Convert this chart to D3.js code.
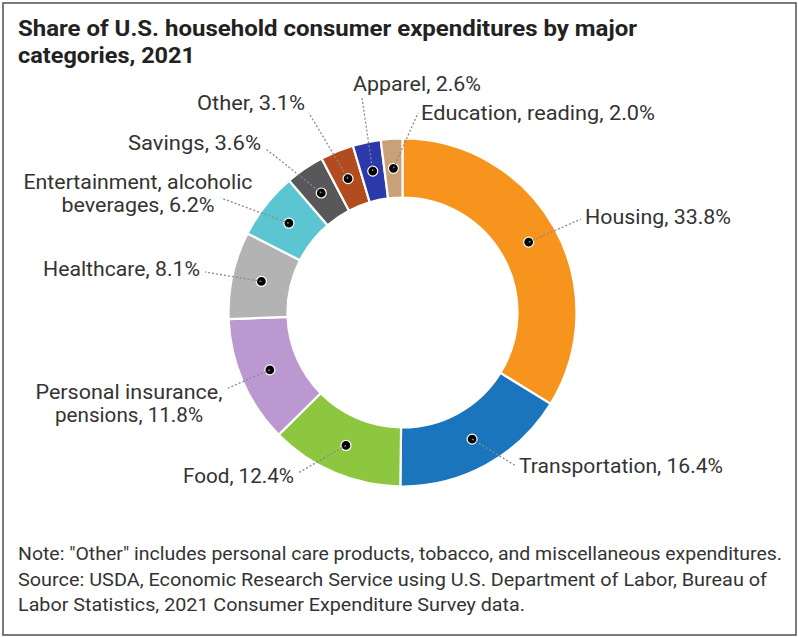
<!DOCTYPE html>
<html>
<head>
<meta charset="utf-8">
<script src="https://cdn.jsdelivr.net/npm/d3@7"></script>
<style>
  html, body { margin: 0; padding: 0; background: #fff; }
  svg { display: block; }
  text { font-family: Roboto, "Liberation Sans", Arial, sans-serif; }
</style>
</head>
<body>
<svg id="chart" width="798" height="638"></svg>
<script>
// ---- Data ----
const categories = [
  "Housing", "Transportation", "Food", "Personal insurance, pensions",
  "Healthcare", "Entertainment, alcoholic beverages", "Savings",
  "Other", "Apparel", "Education, reading"
];
const values = [33.8, 16.4, 12.4, 11.8, 8.1, 6.2, 3.6, 3.1, 2.6, 2.0];
const colors = [
  "#f7941d", "#1b75bc", "#8dc63f", "#bb98d0", "#b3b3b3",
  "#5bc6d1", "#58585a", "#b24c1f", "#2b3aa8", "#c9a077"
];
const titleLines = [
  "Share of U.S. household consumer expenditures by major",
  "categories, 2021"
];
const footerLines = [
  "Note: \"Other\" includes personal care products, tobacco, and miscellaneous expenditures.",
  "Source: USDA, Economic Research Service using U.S. Department of Labor, Bureau of",
  "Labor Statistics, 2021 Consumer Expenditure Survey data."
];

// ---- Layout (annotation placement) ----
const center = { x: 402.5, y: 312.5 };
const rOuter = 174, rInner = 115;
const labelLayout = [
  { anchor: "start",  x: 585, y: 224, brk: 0, w: [146], lx: 581, ly: 219 },
  { anchor: "start",  x: 519, y: 473, brk: 0, w: [204], lx: 516, ly: 466 },
  { anchor: "end",    x: 294, y: 483, brk: 0, w: [111], lx: 298, ly: 473 },
  { anchor: "middle", x: 129, y: 399, brk: 2, w: [187, 148], lx: 226, ly: 389 },
  { anchor: "end",    x: 200, y: 276, brk: 0, w: [157], lx: 205, ly: 272 },
  { anchor: "middle", x: 138, y: 189, brk: 2, w: [229, 153], lx: 221, ly: 198 },
  { anchor: "end",    x: 261, y: 150, brk: 0, w: [133], lx: 266, ly: 149 },
  { anchor: "end",    x: 305, y: 110, brk: 0, w: [108], lx: 309, ly: 113 },
  { anchor: "start",  x: 353, y: 91,  brk: 0, w: [128], lx: 362, ly: 98 },
  { anchor: "start",  x: 421, y: 120, brk: 0, w: [234], lx: 418, ly: 113 }
];

const svg = d3.select("#chart");

function fit(sel, w) {
  sel.each(function () {
    if (w) {
      this.setAttribute("textLength", w);
      this.setAttribute("lengthAdjust", "spacingAndGlyphs");
    }
  });
}

// frame
svg.append("rect")
  .attr("x", 3).attr("y", 3).attr("width", 793).attr("height", 632)
  .attr("fill", "#fff").attr("stroke", "#5a5a5a").attr("stroke-width", 1.6);

// title
const titleW = [619, 177];
const titleY = [36, 63];
titleLines.forEach((t, i) => {
  svg.append("text")
    .attr("x", 18).attr("y", titleY[i])
    .attr("font-size", 22.5).attr("font-weight", 700).attr("fill", "#222")
    .text(t).call(fit, titleW[i]);
});

// donut
const pie = d3.pie().sort(null).value(d => d).startAngle(0).endAngle(2 * Math.PI);
const arcs = pie(values);
const arc = d3.arc().innerRadius(rInner).outerRadius(rOuter);
const g = svg.append("g").attr("transform", `translate(${center.x},${center.y})`);

g.selectAll("path.slice")
  .data(arcs)
  .join("path")
  .attr("class", "slice")
  .attr("d", arc)
  .attr("fill", (d, i) => colors[i])
  .attr("stroke", "#fff")
  .attr("stroke-width", 2.2)
  .attr("stroke-linejoin", "miter");

// leader lines
const cents = arcs.map(a => arc.centroid(a));
svg.append("g").selectAll("line")
  .data(arcs)
  .join("line")
  .attr("x1", (d, i) => center.x + cents[i][0])
  .attr("y1", (d, i) => center.y + cents[i][1])
  .attr("x2", (d, i) => labelLayout[i].lx)
  .attr("y2", (d, i) => labelLayout[i].ly)
  .attr("stroke", "#8a8a8a")
  .attr("stroke-width", 1.3)
  .attr("stroke-dasharray", "2,2");

// dots
g.selectAll("circle.dot")
  .data(arcs)
  .join("circle")
  .attr("class", "dot")
  .attr("cx", (d, i) => cents[i][0])
  .attr("cy", (d, i) => cents[i][1])
  .attr("r", 5)
  .attr("fill", "#000")
  .attr("stroke", "#fff")
  .attr("stroke-width", 1.2);

// labels
categories.forEach((name, i) => {
  const L = labelLayout[i];
  const full = `${name}, ${values[i].toFixed(1)}%`;
  let lines;
  if (L.brk > 0) {
    const words = full.split(" ");
    lines = [words.slice(0, L.brk).join(" "), words.slice(L.brk).join(" ")];
  } else {
    lines = [full];
  }
  lines.forEach((ln, j) => {
    svg.append("text")
      .attr("x", L.x).attr("y", L.y + j * 23)
      .attr("text-anchor", L.anchor)
      .attr("font-size", 19.5).attr("fill", "#333")
      .text(ln).call(fit, L.w[j]);
  });
});

// footer
const footY = [560, 586, 611];
const footW = [764, 749, 507];
footerLines.forEach((t, i) => {
  svg.append("text")
    .attr("x", 18).attr("y", footY[i])
    .attr("font-size", 18.5).attr("fill", "#333")
    .text(t).call(fit, footW[i]);
});
</script>
</body>
</html>
